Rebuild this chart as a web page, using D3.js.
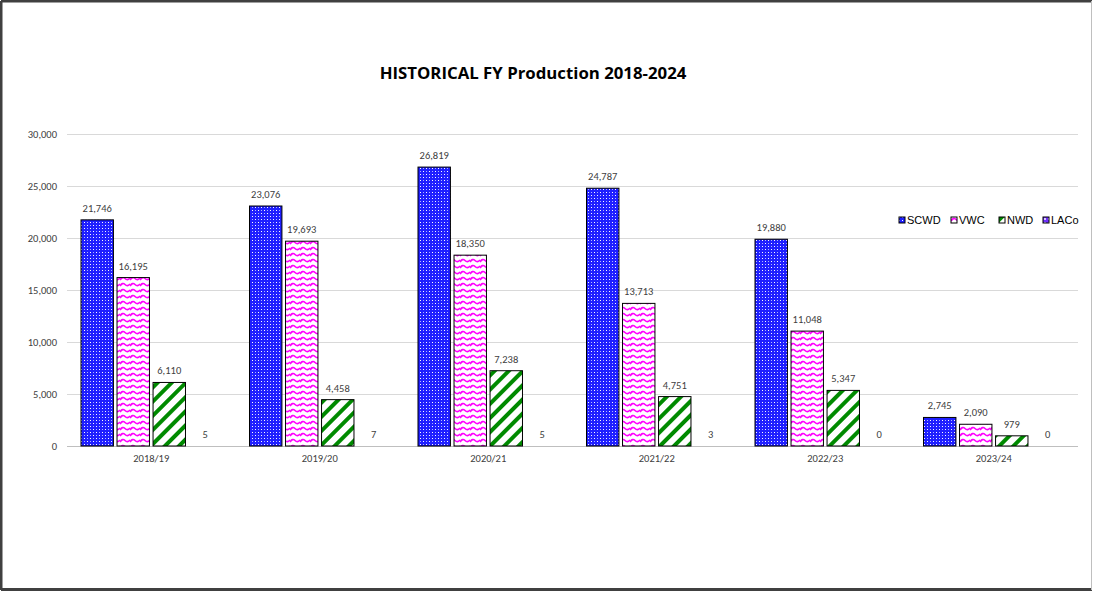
<!DOCTYPE html>
<html>
<head>
<meta charset="utf-8">
<script src="https://cdn.jsdelivr.net/npm/d3@7"></script>
<style>
  body { margin: 0; background: #fff; }
  svg { display: block; }
</style>
</head>
<body>
<svg id="svg" width="1094" height="592"></svg>
<script>
var years = ["2018/19", "2019/20", "2020/21", "2021/22", "2022/23", "2023/24"];
var seriesNames = ["SCWD", "VWC", "NWD", "LACo"];
var scwd = [21746, 23076, 26819, 24787, 19880, 2745];
var vwc = [16195, 19693, 18350, 13713, 11048, 2090];
var nwd = [6110, 4458, 7238, 4751, 5347, 979];
var laco = [5, 7, 5, 3, 0, 0];
var yTicks = [0, 5000, 10000, 15000, 20000, 25000, 30000];

var seriesValues = [scwd, vwc, nwd, laco];

var svg = d3.select("#svg");
var width = 1094, height = 592;
var labelFont = "Carlito, Lato, 'Liberation Sans', sans-serif";

// frame
svg.append("rect").attr("x", 0).attr("y", 0).attr("width", width).attr("height", height).attr("fill", "#fff");
svg.append("line").attr("x1", 1).attr("y1", 1).attr("x2", width - 2).attr("y2", 1).attr("stroke", "#404040").attr("stroke-width", 3);
svg.append("line").attr("x1", 1).attr("y1", 1).attr("x2", 1).attr("y2", height - 2).attr("stroke", "#404040").attr("stroke-width", 3);
svg.append("line").attr("x1", 1).attr("y1", height - 2.5).attr("x2", width - 2).attr("y2", height - 2.5).attr("stroke", "#404040").attr("stroke-width", 3);
svg.append("line").attr("x1", width - 2.5).attr("y1", 1).attr("x2", width - 2.5).attr("y2", height - 2).attr("stroke", "#bfbfbf").attr("stroke-width", 1);

// patterns
var defs = svg.append("defs");

var p1 = defs.append("pattern").attr("id", "pat-SCWD").attr("patternUnits", "userSpaceOnUse")
  .attr("width", 6).attr("height", 6);
p1.append("rect").attr("width", 6).attr("height", 6).attr("fill", "#1f1fff");
p1.append("rect").attr("x", 0).attr("y", 0).attr("width", 1).attr("height", 1).attr("fill", "#fff");
p1.append("rect").attr("x", 3).attr("y", 3).attr("width", 1).attr("height", 1).attr("fill", "#fff");
p1.append("rect").attr("x", 0).attr("y", 3).attr("width", 1).attr("height", 1).attr("fill", "#aab0ff");
p1.append("rect").attr("x", 3).attr("y", 0).attr("width", 1).attr("height", 1).attr("fill", "#aab0ff");

var p2 = defs.append("pattern").attr("id", "pat-VWC").attr("patternUnits", "userSpaceOnUse")
  .attr("width", 10).attr("height", 6);
p2.append("rect").attr("width", 10).attr("height", 6).attr("fill", "#fff");
p2.append("path").attr("d", "M0,4 Q2.5,0 5,2.5 T10,2")
  .attr("fill", "none").attr("stroke", "#ff00ff").attr("stroke-width", 1.6);

var p3 = defs.append("pattern").attr("id", "pat-NWD").attr("patternUnits", "userSpaceOnUse")
  .attr("width", 10).attr("height", 10).attr("patternTransform", "rotate(45)");
p3.append("rect").attr("width", 10).attr("height", 10).attr("fill", "#fff");
p3.append("rect").attr("x", 0).attr("y", 0).attr("width", 4).attr("height", 10).attr("fill", "#008a00");

var p4 = defs.append("pattern").attr("id", "pat-LACo").attr("patternUnits", "userSpaceOnUse")
  .attr("width", 4).attr("height", 4);
p4.append("rect").attr("width", 4).attr("height", 4).attr("fill", "#7030ff");
p4.append("rect").attr("x", 1).attr("y", 1).attr("width", 2).attr("height", 2).attr("fill", "#d8c8ff");

// scales
var x = d3.scaleBand().domain(years).range([67, 1078]).paddingInner(0).paddingOuter(0);
var x1 = d3.scaleBand().domain(seriesNames).range([14, x.bandwidth() - 14]).paddingInner(0.1);
var y = d3.scaleLinear().domain([0, 30000]).range([446, 134]);

// gridlines
svg.append("g").selectAll("line").data(yTicks).join("line")
  .attr("x1", 67).attr("x2", 1078)
  .attr("y1", function(d) { return Math.round(y(d)) + 0.5; })
  .attr("y2", function(d) { return Math.round(y(d)) + 0.5; })
  .attr("stroke", function(d) { return d === 0 ? "#bfbfbf" : "#d9d9d9"; })
  .attr("stroke-width", 1);

// y axis
var yAxis = svg.append("g").attr("transform", "translate(67,0)")
  .call(d3.axisLeft(y).tickValues(yTicks).tickFormat(d3.format(",")).tickSize(0).tickPadding(10));
yAxis.select(".domain").remove();
yAxis.selectAll("text").attr("font-family", labelFont)
  .attr("font-size", "10.5px").attr("fill", "#404040");

// x axis labels
var xAxis = svg.append("g").attr("transform", "translate(0,446)")
  .call(d3.axisBottom(x).tickSize(0).tickPadding(9));
xAxis.select(".domain").remove();
xAxis.selectAll("text").attr("font-family", labelFont)
  .attr("font-size", "10.5px").attr("fill", "#404040");

// bars
var rows = [];
years.forEach(function(yr, i) {
  seriesNames.forEach(function(s, j) {
    rows.push({ year: yr, series: s, value: seriesValues[j][i] });
  });
});

var groups = svg.append("g");
groups.selectAll("rect").data(rows.filter(function(d) { return d.value > 50; })).join("rect")
  .attr("x", function(d) { return x(d.year) + x1(d.series); })
  .attr("y", function(d) { return y(d.value); })
  .attr("width", x1.bandwidth())
  .attr("height", function(d) { return y(0) - y(d.value); })
  .attr("fill", function(d) { return "url(#pat-" + d.series + ")"; })
  .attr("stroke", "#000").attr("stroke-width", 1);

groups.selectAll("text").data(rows).join("text")
  .attr("x", function(d) { return x(d.year) + x1(d.series) + x1.bandwidth() / 2; })
  .attr("y", function(d) { return y(d.value) - 8; })
  .attr("text-anchor", "middle")
  .attr("font-family", labelFont)
  .attr("font-size", "10.5px").attr("fill", "#404040")
  .text(function(d) { return d3.format(",")(d.value); });

// title
svg.append("text").attr("x", 533).attr("y", 79).attr("text-anchor", "middle")
  .attr("font-family", "'Open Sans', 'Liberation Sans', sans-serif")
  .attr("font-weight", "bold").attr("font-size", "16.8px").attr("fill", "#000")
  .text("HISTORICAL FY Production 2018-2024");

// legend
var legendX = [899, 951, 999, 1043];
var legend = svg.append("g").selectAll("g").data(seriesNames).join("g")
  .attr("transform", function(d, i) { return "translate(" + legendX[i] + ",217)"; });
legend.append("rect").attr("x", 0).attr("y", 0).attr("width", 6).attr("height", 6)
  .attr("fill", function(d) { return "url(#pat-" + d + ")"; })
  .attr("stroke", "#000").attr("stroke-width", 1);
legend.append("text").attr("x", 8).attr("y", 7)
  .attr("font-family", "'Liberation Sans', Arial, sans-serif")
  .attr("font-size", "11px").attr("fill", "#000")
  .text(function(d) { return d; });
</script>
</body>
</html>
